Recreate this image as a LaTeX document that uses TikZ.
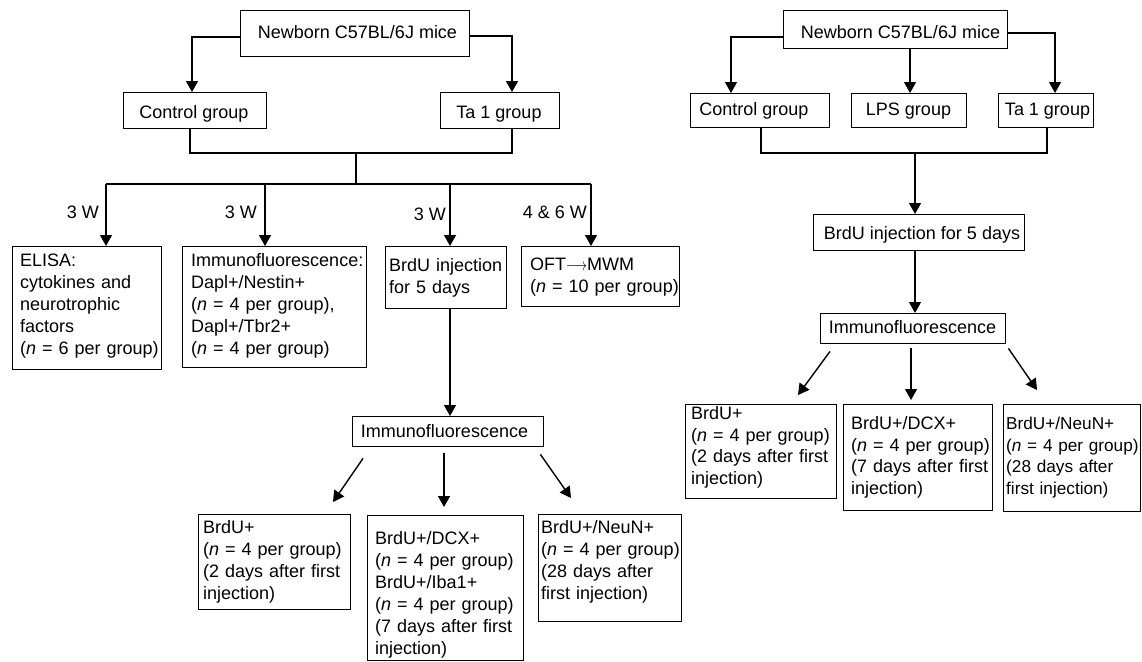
\documentclass[tikz,border=0pt]{standalone}
\usepackage{fontspec}
\setmainfont{Liberation Sans}
\usetikzlibrary{arrows.meta,calc}
\newcommand\mybox[5]{\node[frame,minimum width={#4pt-#2pt},minimum height={#5pt-#3pt}] (#1) at (#2,#3) {};}
\newcommand\oarr{\scalebox{0.75}[1]{$\longrightarrow$}}
\begin{document}
\begin{tikzpicture}[x=1pt,y=-1pt,
  ln/.style={line width=1.4pt,black},
  arr/.style={ln,-{Triangle[length=11pt,width=12pt]}},
  frame/.style={draw,line width=1.4pt,inner sep=0pt,anchor=north west},
  txt/.style={inner sep=0pt,font=\fontsize{18}{22}\selectfont},
  mtxt/.style={txt,anchor=north west,align=left,text width=200pt},
  rtxt/.style={mtxt,font=\fontsize{18}{21.5}\selectfont},
]
\useasboundingbox (0,0) rectangle (1142,661);

% ---------------- left diagram ----------------
\mybox{nb1}{240}{10}{469}{56}
\mybox{ctl1}{123}{92}{266}{128}
\mybox{ta1}{440}{92}{559}{128}
\mybox{elisa}{12}{246}{161}{369}
\mybox{imm1}{182}{246}{366}{367}
\mybox{brdu1}{385}{246}{506}{308}
\mybox{oft}{521}{246}{679}{306}
\mybox{imm2}{352}{416}{543}{446}
\mybox{b1}{198}{514}{350}{609}
\mybox{b2}{367}{515}{523}{660}
\mybox{b3}{538}{514}{681}{621}

\node[txt,anchor=base] (nb1t) at (357.5,38.5) {Newborn C57BL/6J mice};
\node[txt,anchor=base] (ctl1t) at (194,118.5) {Control group};
\node[txt,anchor=base] (ta1t) at (499,118.5) {Ta 1 group};
\node[txt,anchor=base] (imm2t) at (444.5,437.5) {Immunofluorescence};

\node[mtxt] (elisat) at (20,251) {\strut ELISA:\\cytokines and\\neurotrophic\\factors\\(\textit{n} = 6 per group)};
\node[mtxt] (imm1t) at (191,251) {\strut Immunofluorescence:\\Dapl+/Nestin+\\(\textit{n} = 4 per group),\\Dapl+/Tbr2+\\(\textit{n} = 4 per group)};
\node[mtxt] (brdu1t) at (389,256) {\strut BrdU injection\\for 5 days};
\node[mtxt] (oftt) at (530,255) {\strut OFT\oarr MWM\\(\textit{n} = 10 per group)};
\node[mtxt] (b1t) at (203,518) {\strut BrdU+\\(\textit{n} = 4 per group)\\(2 days after first\\injection)};
\node[mtxt] (b2t) at (375,529) {\strut BrdU+/DCX+\\(\textit{n} = 4 per group)\\BrdU+/Iba1+\\(\textit{n} = 4 per group)\\(7 days after first\\injection)};
\node[mtxt] (b3t) at (541,518) {\strut BrdU+/NeuN+\\(\textit{n} = 4 per group)\\(28 days after\\first injection)};

\node[txt,anchor=base east] (w1) at (99,218.5) {3 W};
\node[txt,anchor=base east] (w2) at (257,218.5) {3 W};
\node[txt,anchor=base east] (w3) at (446,220) {3 W};
\node[txt,anchor=base east] (w4) at (587,218.5) {4 \& 6 W};

\draw[arr] (nb1.west |- 0,37) -| (192,0 |- ctl1.north);
\draw[arr] (nb1.east |- 0,36) -| (512,0 |- ta1.north);
\draw[ln] (190,0 |- ctl1.south) -- (190,153) -| (512,0 |- ta1.south);
\coordinate (m1) at (356,153);
\coordinate (h1) at (356,184);
\draw[ln] (m1) -- (h1);
\draw[ln] (106,184) -- (591,184);
\draw[arr] (106,184) -- (106,0 |- elisa.north);
\draw[arr] (265,184) -- (265,0 |- imm1.north);
\draw[arr] (450,184) -- (450,0 |- brdu1.north);
\draw[arr] (591,184) -- (591,0 |- oft.north);
\draw[arr] (450,0 |- brdu1.south) -- (450,0 |- imm2.north);

\coordinate (l1e) at (333,502);
\coordinate (l2e) at (444,507);
\coordinate (l3e) at (571,498);
\draw[arr] ($(imm2.south west)+(11,11)$) -- (l1e);
\draw[arr] ($(imm2.south west)+(92,6)$) -- (l2e);
\draw[arr] ($(imm2.south east)+(-4,7)$) -- (l3e);

% ---------------- right diagram ----------------
\mybox{nb2}{783}{10}{1007}{48}
\mybox{ctl2}{690}{93}{829}{127}
\mybox{lps}{851}{93}{966}{127}
\mybox{ta2}{998}{93}{1093}{127}
\mybox{brdu2}{813}{214}{1024}{250}
\mybox{imm3}{820}{313}{1005}{343}
\mybox{rb1}{685}{404}{836}{498}
\mybox{rb2}{843}{404}{992}{510}
\mybox{rb3}{1003}{404}{1140}{511}

\node[txt,anchor=base] (nb2t) at (900.5,38.5) {Newborn C57BL/6J mice};
\node[txt,anchor=base] (ctl2t) at (754,115.5) {Control group};
\node[txt,anchor=base] (lpst) at (908.5,115.5) {LPS group};
\node[txt,anchor=base] (ta2t) at (1047.5,115.5) {Ta 1 group};
\node[txt,anchor=base] (brdu2t) at (922,239.5) {BrdU injection for 5 days};
\node[txt,anchor=base] (imm3t) at (912.5,333.5) {Immunofluorescence};

\node[rtxt] (rb1t) at (691,404.3) {\strut BrdU+\\(\textit{n} = 4 per group)\\(2 days after first\\injection)};
\node[rtxt] (rb2t) at (851,414.3) {\strut BrdU+/DCX+\\(\textit{n} = 4 per group)\\(7 days after first\\injection)};
\node[rtxt,font=\fontsize{17.2}{21.5}\selectfont] (rb3t) at (1006,414.3) {\strut BrdU+/NeuN+\\(\textit{n} = 4 per group)\\(28 days after\\first injection)};

\draw[arr] (nb2.west |- 0,37) -| (731,0 |- ctl2.north);
\draw[arr] (910,0 |- nb2.south) -- (910,0 |- lps.north);
\draw[arr] (nb2.east |- 0,33) -| (1055,0 |- ta2.north);
\draw[ln] (761,0 |- ctl2.south) -- (761,153) -| (1047,0 |- ta2.south);
\coordinate (m2) at (915,153);
\draw[arr] (m2) -- (915,0 |- brdu2.north);
\draw[arr] (915,0 |- brdu2.south) -- (915,0 |- imm3.north);

\coordinate (r1e) at (798,395);
\coordinate (r2e) at (911,400);
\coordinate (r3e) at (1037,390);
\draw[arr] ($(imm3.south west)+(10,7)$) -- (r1e);
\draw[arr] ($(imm3.south west)+(91,4)$) -- (r2e);
\draw[arr] ($(imm3.south east)+(2,4)$) -- (r3e);
\end{tikzpicture}
\end{document}
